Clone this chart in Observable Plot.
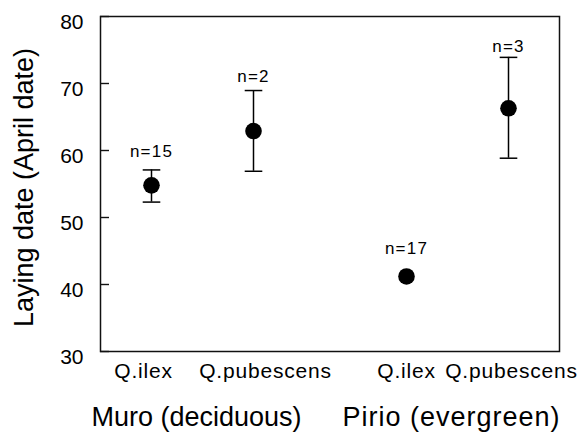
<!DOCTYPE html>
<html>
<head>
<meta charset="utf-8">
<script src="https://cdn.jsdelivr.net/npm/d3@7"></script>
<script src="https://cdn.jsdelivr.net/npm/@observablehq/plot@0.6"></script>
<style>
  html, body { margin: 0; padding: 0; background: #fff; }
  #chart svg { display: block; }
</style>
</head>
<body>
<div id="chart"></div>
<script>
// ---- data ----
const sites = ["Muro (deciduous)", "Pirio (evergreen)"];
const species = ["Q.ilex", "Q.pubescens"];
const siteOfPoint = ["Muro (deciduous)", "Muro (deciduous)", "Pirio (evergreen)", "Pirio (evergreen)"];
const speciesOfPoint = ["Q.ilex", "Q.pubescens", "Q.ilex", "Q.pubescens"];
const meanDate = [54.8, 62.9, 41.2, 66.3];
const lowDate = [52.3, 56.9, null, 58.85];
const highDate = [57.1, 68.95, null, 73.9];
const sampleLabel = ["n=15", "n=2", "n=17", "n=3"];
const sampleLabelY = [59.1, 70.2, 44.6, 74.7];
const yTicks = [30, 40, 50, 60, 70, 80];

// slot on the x axis: two species per site, with a gap between sites
const slot = (site, sp) => 1 + 5 * sites.indexOf(site) + 2 * species.indexOf(sp);

const points = meanDate.map((m, i) => ({
  site: siteOfPoint[i],
  species: speciesOfPoint[i],
  x: slot(siteOfPoint[i], speciesOfPoint[i]),
  mean: m,
  low: lowDate[i],
  high: highDate[i],
  label: sampleLabel[i],
  labelY: sampleLabelY[i]
}));
const bars = points.filter(d => d.low != null);
const siteTitles = sites.map(s => ({site: s, x: slot(s, species[0]) + 1}));

// horizontal cap symbol for error bars
const capSymbol = {
  draw(context, size) {
    const r = Math.sqrt(size / Math.PI);
    context.moveTo(-r, 0);
    context.lineTo(r, 0);
  }
};

const font = "'Liberation Sans', Arial, Helvetica, sans-serif";
const labelNudge = [-8, 12, 0, 3];

const speciesLabelMarks = points.map((d, i) =>
  Plot.text([d], {
    x: "x", text: "species", frameAnchor: "bottom", lineAnchor: "top",
    dy: 12, dx: labelNudge[i], fontSize: 21, fill: "#000"
  })
);

const chart = Plot.plot({
  width: 586,
  height: 436,
  marginLeft: 100,
  marginRight: 27,
  marginTop: 16,
  marginBottom: 85,
  style: {fontFamily: font, color: "#000", background: "#fff", overflow: "visible"},
  x: {domain: [0, 9], axis: null},
  y: {domain: [30, 80], axis: null},
  marks: [
    Plot.frame({stroke: "#111", strokeWidth: 1.5}),
    Plot.axisY({
      ticks: yTicks, tickSize: -9, tickFormat: () => "",
      label: null, stroke: "#111", strokeWidth: 1.4
    }),
    Plot.text(yTicks, {
      y: d => d, text: d => String(d), frameAnchor: "left", textAnchor: "end",
      dx: -17, dy: 6, fontSize: 21, fill: "#000"
    }),
    Plot.text(["Laying date (April date)"], {
      frameAnchor: "left", textAnchor: "middle", rotate: -90,
      dx: -76, dy: 3.5, fontSize: 27, fill: "#000"
    }),
    ...speciesLabelMarks,
    Plot.text(siteTitles, {
      x: "x", text: "site", frameAnchor: "bottom", lineAnchor: "bottom",
      dy: 74, dx: -6, fontSize: 27, fill: "#000"
    }),
    Plot.ruleX(bars, {x: "x", y1: "low", y2: "high", stroke: "#000", strokeWidth: 1.5}),
    Plot.dot(bars, {x: "x", y: "low", symbol: capSymbol, r: 8.8, stroke: "#000", strokeWidth: 1.5, fill: "none"}),
    Plot.dot(bars, {x: "x", y: "high", symbol: capSymbol, r: 8.8, stroke: "#000", strokeWidth: 1.5, fill: "none"}),
    Plot.dot(points, {x: "x", y: "mean", r: 8.3, fill: "#000", stroke: "none"}),
    Plot.text(points, {
      x: "x", y: "labelY", text: "label", lineAnchor: "bottom",
      fontSize: 17, fill: "#000"
    })
  ]
});

// slightly wider letter spacing, as in the reference typeface
d3.select(chart).selectAll("text").each(function () {
  const t = this.textContent;
  if (species.includes(t)) this.style.letterSpacing = "0.8px";
  else if (/^n=/.test(t)) this.style.letterSpacing = "1.2px";
  else if (t === "Pirio (evergreen)") this.style.letterSpacing = "1px";
});

document.getElementById("chart").appendChild(chart);
</script>
</body>
</html>
